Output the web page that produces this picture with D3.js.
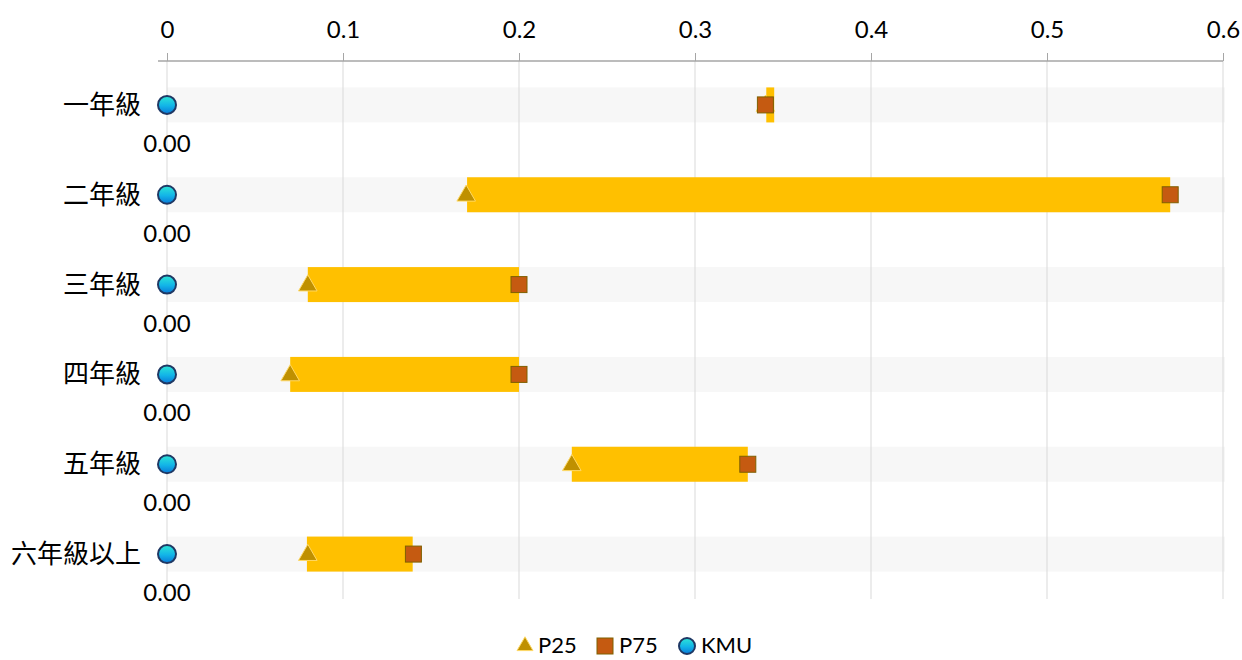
<!DOCTYPE html>
<html>
<head>
<meta charset="utf-8">
<script src="https://cdn.jsdelivr.net/npm/d3@7"></script>
<style>
  body { margin: 0; background: #fff; }
  text { font-family: Lato, "Noto Sans CJK TC", sans-serif; fill: #000; }
</style>
</head>
<body>
<svg id="chart" width="1242" height="660"></svg>
<script>
var CATEGORIES = ["一年級", "二年級", "三年級", "四年級", "五年級", "六年級以上"];
var P25 = [0.34, 0.17, 0.08, 0.07, 0.23, 0.08];
var P75 = [0.34, 0.57, 0.20, 0.20, 0.33, 0.14];
var KMU = [0, 0, 0, 0, 0, 0];
// gold range bar
var BAR_FROM = [0.3405, 0.1705, 0.08, 0.07, 0.23, 0.0795];
var BAR_TO = [0.345, 0.57, 0.20, 0.20, 0.33, 0.1396];
var X_TICKS = [0, 0.1, 0.2, 0.3, 0.4, 0.5, 0.6];
var LEGEND = ["P25", "P75", "KMU"];

function main() {
    var svg = d3.select("#chart");
    var defs = svg.append("defs");
    var grad = defs.append("linearGradient")
        .attr("id", "kmuGrad")
        .attr("x1", 0).attr("y1", 0).attr("x2", 0).attr("y2", 1);
    grad.append("stop").attr("offset", "0%").attr("stop-color", "#2ee6d6");
    grad.append("stop").attr("offset", "55%").attr("stop-color", "#12b4e8");
    grad.append("stop").attr("offset", "100%").attr("stop-color", "#0a78d8");

    var x = d3.scaleLinear().domain([0, 0.6]).range([167, 1223]);
    var y = d3.scaleBand().domain(CATEGORIES).range([60, 599]).paddingInner(0).paddingOuter(0);
    var bandH = 35;

    var rows = CATEGORIES.map(function(c, i) {
        return { cat: c, p25: P25[i], p75: P75[i], kmu: KMU[i], from: BAR_FROM[i], to: BAR_TO[i] };
    });
    function cy(d) { return y(d.cat) + y.bandwidth() / 2; }

    // background bands
    svg.selectAll(".band")
        .data(rows)
        .enter().append("rect")
        .attr("class", "band")
        .attr("x", x(0))
        .attr("width", x(0.6) - x(0) + 2)
        .attr("y", function(d) { return cy(d) - bandH / 2; })
        .attr("height", bandH)
        .attr("fill", "#f7f7f7");

    // gridlines
    svg.selectAll(".grid")
        .data(X_TICKS)
        .enter().append("line")
        .attr("class", "grid")
        .attr("x1", function(d) { return x(d); })
        .attr("x2", function(d) { return x(d); })
        .attr("y1", 61)
        .attr("y2", 599)
        .attr("stroke", "#d9d9d9")
        .attr("stroke-width", 1);

    // top axis
    var axis = svg.append("g")
        .attr("transform", "translate(0,61)")
        .call(d3.axisTop(x).tickValues(X_TICKS).tickSize(8).tickPadding(15)
            .tickFormat(function(d) { return d3.format("")(+d.toFixed(1)); }));
    axis.select(".domain").remove();
    axis.selectAll(".tick line").attr("stroke", "#a6a6a6");
    axis.selectAll(".tick text").style("font-size", "24px").attr("fill", "#000");
    svg.append("line")
        .attr("x1", 158).attr("x2", x(0.6))
        .attr("y1", 61).attr("y2", 61)
        .attr("stroke", "#a6a6a6").attr("stroke-width", 1.5);

    // gold bars
    svg.selectAll(".bar")
        .data(rows)
        .enter().append("rect")
        .attr("class", "bar")
        .attr("x", function(d) { return x(d.from); })
        .attr("width", function(d) { return x(d.to) - x(d.from); })
        .attr("y", function(d) { return cy(d) - bandH / 2; })
        .attr("height", bandH)
        .attr("fill", "#ffc000");

    var tri = d3.symbol().type(d3.symbolTriangle).size(150);
    svg.selectAll(".p25")
        .data(rows)
        .enter().append("path")
        .attr("class", "p25")
        .attr("d", tri)
        .attr("transform", function(d) { return "translate(" + x(d.p25) + "," + (cy(d) + 1) + ")"; })
        .attr("fill", "#bf9000")
        .attr("stroke", "#ffd966")
        .attr("stroke-width", 1);

    svg.selectAll(".p75")
        .data(rows)
        .enter().append("rect")
        .attr("class", "p75")
        .attr("x", function(d) { return x(d.p75) - 8; })
        .attr("y", function(d) { return cy(d) - 8; })
        .attr("width", 16)
        .attr("height", 16)
        .attr("fill", "#c55a11")
        .attr("stroke", "#7f6000")
        .attr("stroke-width", 1);

    svg.selectAll(".kmu")
        .data(rows)
        .enter().append("circle")
        .attr("class", "kmu")
        .attr("cx", function(d) { return x(d.kmu); })
        .attr("cy", cy)
        .attr("r", 9)
        .attr("fill", "url(#kmuGrad)")
        .attr("stroke", "#1f3864")
        .attr("stroke-width", 2);

    // value labels under KMU
    svg.selectAll(".kmuLabel")
        .data(rows)
        .enter().append("text")
        .attr("class", "kmuLabel")
        .attr("x", function(d) { return x(d.kmu); })
        .attr("y", function(d) { return cy(d) + 47; })
        .attr("text-anchor", "middle")
        .style("font-size", "24px")
        .text(function(d) { return d.kmu.toFixed(2); });

    // category labels
    svg.selectAll(".cat")
        .data(rows)
        .enter().append("text")
        .attr("class", "cat")
        .attr("x", 141)
        .attr("y", function(d) { return cy(d) + 9; })
        .attr("text-anchor", "end")
        .style("font-size", "26px")
        .text(function(d) { return d.cat; });

    // legend
    var lg = svg.append("g").attr("transform", "translate(0,645)");
    lg.append("path").attr("d", d3.symbol().type(d3.symbolTriangle).size(110))
        .attr("transform", "translate(525,1)")
        .attr("fill", "#bf9000").attr("stroke", "#ffd966");
    lg.append("text").attr("x", 538).attr("y", 8).style("font-size", "22px").text(LEGEND[0]);
    lg.append("rect").attr("x", 597).attr("y", -7).attr("width", 16).attr("height", 16)
        .attr("fill", "#c55a11").attr("stroke", "#7f6000");
    lg.append("text").attr("x", 619).attr("y", 8).style("font-size", "22px").text(LEGEND[1]);
    lg.append("circle").attr("cx", 687).attr("cy", 1).attr("r", 8)
        .attr("fill", "url(#kmuGrad)").attr("stroke", "#1f3864").attr("stroke-width", 2);
    lg.append("text").attr("x", 701).attr("y", 8).style("font-size", "22px").text(LEGEND[2]);
}

main();
</script>
</body>
</html>
